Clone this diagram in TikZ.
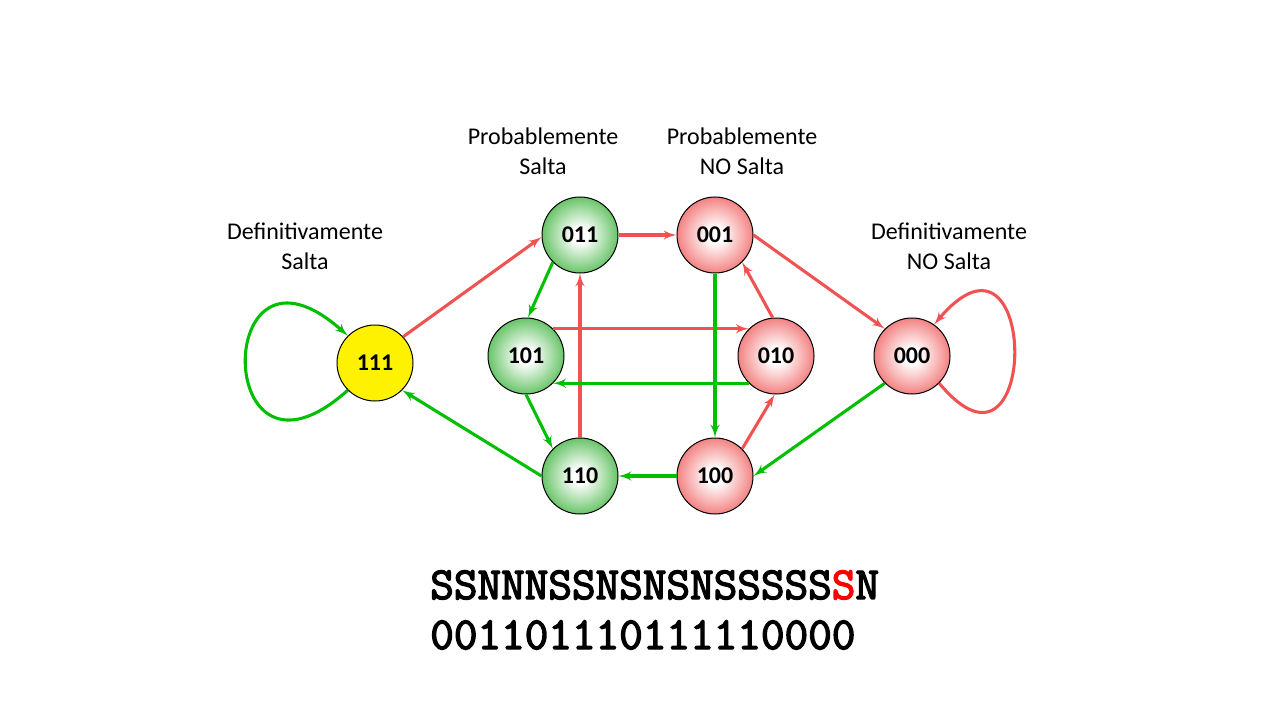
\documentclass[tikz,border=0pt]{standalone}
\usepackage{fontspec}
\setmainfont{Carlito}
\newfontfamily\codefont[FakeBold=3]{Latin Modern Mono}
\usetikzlibrary{automata, arrows, positioning}
\definecolor{sired}{RGB}{240,82,82}
\definecolor{sigreen}{RGB}{0,190,0}
\definecolor{glowg}{RGB}{38,170,38}
\definecolor{glowr}{RGB}{238,74,74}
\pgfdeclareradialshading{glowgreen}{\pgfpoint{0bp}{0bp}}{color(0bp)=(white); color(5bp)=(white); color(34bp)=(glowg); color(50bp)=(glowg)}
\pgfdeclareradialshading{glowred}{\pgfpoint{0bp}{0bp}}{color(0bp)=(white); color(5bp)=(white); color(34bp)=(glowr); color(50bp)=(glowr)}
\tikzset{
>=latex', % arrow heads
every state/.style={draw=black, line width=0.75pt, minimum size=57pt, inner sep=0pt, font=\bfseries\fontsize{18}{20}\selectfont}, % every bit state
salta/.style={state, shading=glowgreen}, % predicts taken
nosalta/.style={state, shading=glowred}, % predicts not taken
fuerte/.style={state, fill=yellow},
rojo/.style={->, draw=sired, line width=2.3pt},
verde/.style={->, draw=sigreen, line width=2.3pt},
etiqueta/.style={align=center, inner sep=0pt, font=\fontsize{18}{22.5}\selectfont},
codigo/.style={inner sep=0pt, font=\codefont\fontsize{34.4}{38}\selectfont}
}

\begin{document}
\begin{tikzpicture}[x=0.75pt, y=-0.75pt]
      \useasboundingbox (0,0) rectangle (1280,720);

      \node[fuerte] (111) at (375,363) {111};
      \node[salta] (011) at (580,235) {011};
      \node[salta] (101) at (526,356) {101};
      \node[salta] (110) at (580,476) {110};
      \node[nosalta] (001) at (715,235) {001};
      \node[nosalta] (010) at (776,356) {010};
      \node[nosalta] (100) at (715,476) {100};
      \node[nosalta] (000) at (912,356) {000};

      \node[etiqueta] (defs) at (305,246) {Definitivamente\\Salta};
      \node[etiqueta] (probs) at (543,151) {Probablemente\\Salta};
      \node[etiqueta] (probn) at (742,151) {Probablemente\\NO Salta};
      \node[etiqueta] (defn) at (949,246) {Definitivamente\\NO Salta};

      \draw (111.43) edge[rojo] (011.183)
      (011) edge[rojo] (001)
      (001.east) edge[rojo] (000.135)
      (101.45) edge[rojo] (010.135)
      (110) edge[rojo] (011)
      (010.95) edge[rojo] (001.-45)
      (100.45) edge[rojo] (010.-92);

      \draw (011.-135) edge[verde] (101.87)
      (101.-90) edge[verde] (110.135)
      (010.-135) edge[verde] (101.-45)
      (001) edge[verde] (100)
      (000.-135) edge[verde] (100.east)
      (100) edge[verde] (110)
      (110.west) edge[verde] (111.-45);

      % self loops
      \draw[verde] (111.-135) .. controls (212,512) and (212,214) .. (111.135);
      \draw[rojo] (000.-45) .. controls (1040,505) and (1040,200) .. (000.55);

      \node[codigo, anchor=base west] (hist) at (430,599) {SSNNNSSNSNSNSSSSS\textcolor{red}{S}N};
      \node[codigo, anchor=base west] (bits) at (430,649) {001101110111110000};
\end{tikzpicture}
\end{document}
